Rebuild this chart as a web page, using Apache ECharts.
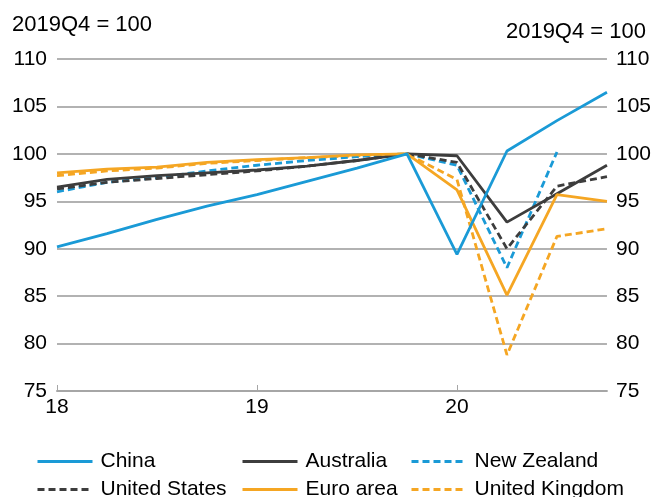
<!DOCTYPE html>
<html>
<head>
<meta charset="utf-8">
<script src="https://cdn.jsdelivr.net/npm/echarts@6/dist/echarts.min.js"></script>
<style>html,body{margin:0;padding:0;background:#fff}#c{width:654px;height:497px}</style>
</head>
<body>
<div id="c"></div>
<script>
const xValues = [18, 18.25, 18.5, 18.75, 19, 19.25, 19.5, 19.75, 20, 20.25, 20.5, 20.75];
const xTickLabels = [18, 19, 20];
const yTicks = [75, 80, 85, 90, 95, 100, 105, 110];
const china = [90.2, 91.6, 93.1, 94.5, 95.7, 97.1, 98.5, 100, 89.4, 100.3, 103.5, 106.5];
const australia = [96.5, 97.3, 97.7, 98.0, 98.3, 98.7, 99.3, 100, 99.8, 92.8, 95.8, 98.8];
const newZealand = [96.0, 97.0, 97.5, 98.2, 98.8, 99.3, 99.7, 100, 98.8, 88.0, 100.2, null];
const unitedStates = [96.3, 97.0, 97.4, 97.8, 98.2, 98.7, 99.3, 100, 99.1, 90.0, 96.6, 97.6];
const euroArea = [98.0, 98.4, 98.6, 99.1, 99.4, 99.6, 99.9, 100, 96.2, 85.1, 95.7, 95.0];
const unitedKingdom = [97.7, 98.2, 98.5, 99.0, 99.3, 99.6, 99.8, 100, 97.3, 78.8, 91.3, 92.1];
const unitLabel = '2019Q4 = 100';

const BLUE = '#1a9ad6', DARK = '#3d3d3d', ORANGE = '#f5a623';
const FONT = 'Liberation Sans, Arial, sans-serif';
const FS = 21;
const pairs = arr => xValues.map((x, i) => [x, arr[i]]);

function mk(name, data, color, dashed, z) {
  return {
    name, type: 'line', data: pairs(data), showSymbol: false, symbol: 'none',
    connectNulls: false, z: z,
    lineStyle: { color, width: 2.8, type: dashed ? [7, 4] : 'solid' },
    itemStyle: { color }
  };
}

const legendCommon = {
  orient: 'vertical', top: 451, padding: 0, height: 60, itemWidth: 55, itemHeight: 20, itemGap: 7,
  itemStyle: { opacity: 0, borderWidth: 0 },
  lineStyle: { width: 3 },
  textStyle: { fontSize: FS, fontFamily: FONT, color: '#000', lineHeight: 20, padding: [0, 0, 0, 3] }
};

const yAxisCommon = {
  type: 'value', min: 75, max: 110, interval: 5,
  axisLine: { show: false }, axisTick: { show: false },
  splitLine: { show: true, lineStyle: { color: '#999', width: 1.5 } },
  axisLabel: { fontSize: FS, fontFamily: FONT, color: '#000', padding: [0, 0, 8, 0] }
};

const chart = echarts.init(document.getElementById('c'), null, { renderer: 'canvas' });
chart.setOption({
  animation: false,
  backgroundColor: '#fff',
  title: [
    { text: unitLabel, left: 7, top: 9, textStyle: { fontSize: 22, fontWeight: 'normal', fontFamily: FONT, color: '#000' } },
    { text: unitLabel, right: 3, top: 16, textStyle: { fontSize: 22, fontWeight: 'normal', fontFamily: FONT, color: '#000' } }
  ],
  grid: { left: 57, right: 46, top: 59, bottom: 106, containLabel: false },
  legend: [
    Object.assign({}, legendCommon, { left: 36, data: ['China', 'United States'] }),
    Object.assign({}, legendCommon, { left: 241, data: ['Australia', 'Euro area'] }),
    Object.assign({}, legendCommon, { left: 410, data: ['New Zealand', 'United Kingdom'] })
  ],
  xAxis: {
    type: 'value', min: 18, max: 20.75, interval: 1,
    axisLine: { show: true, onZero: false, lineStyle: { color: '#a6a6a6', width: 2 } },
    axisTick: { show: true, inside: true, length: 6, customValues: xTickLabels, lineStyle: { color: '#a6a6a6', width: 1 } },
    splitLine: { show: false },
    axisLabel: { customValues: xTickLabels, fontSize: FS, fontFamily: FONT, color: '#000', margin: 6 }
  },
  yAxis: [
    Object.assign({}, yAxisCommon, { position: 'left', axisLabel: Object.assign({}, yAxisCommon.axisLabel, { margin: 10 }) }),
    Object.assign({}, yAxisCommon, { position: 'right', splitLine: { show: false }, axisLabel: Object.assign({}, yAxisCommon.axisLabel, { margin: 9 }) })
  ],
  series: [
    mk('China', china, BLUE, false, 6),
    mk('Australia', australia, DARK, false, 4),
    mk('New Zealand', newZealand, BLUE, true, 3),
    mk('United States', unitedStates, DARK, true, 3),
    mk('Euro area', euroArea, ORANGE, false, 5),
    mk('United Kingdom', unitedKingdom, ORANGE, true, 2)
  ]
});
</script>
</body>
</html>
